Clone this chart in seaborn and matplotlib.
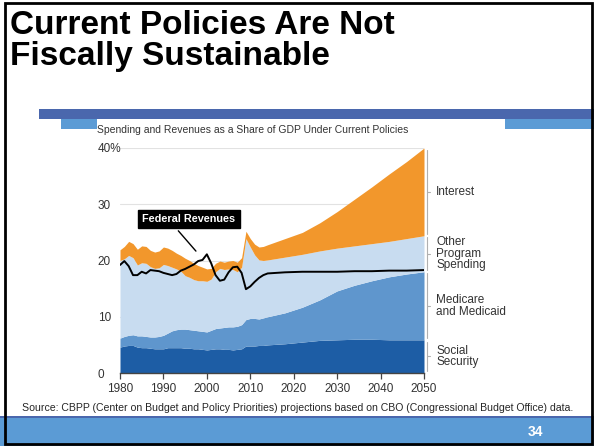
import matplotlib.pyplot as plt
import seaborn as sns
import pandas as pd
from matplotlib.patches import Rectangle

# Data (% of GDP)
years = list(range(1980, 2015)) + [2018, 2022, 2026, 2030, 2034, 2038, 2042, 2046, 2050]
social_security = [4.6, 4.8, 4.9, 4.9, 4.6, 4.5, 4.5, 4.4, 4.3, 4.3,
                   4.3, 4.5, 4.5, 4.5, 4.5, 4.4, 4.4, 4.3, 4.3, 4.2,
                   4.1, 4.2, 4.3, 4.3, 4.2, 4.2, 4.1, 4.2, 4.3, 4.8,
                   4.8, 4.8, 4.9, 4.9, 5.0,
                   5.2, 5.5, 5.8, 5.9, 6.0, 6.0, 5.9, 5.9, 5.9]
medicare_medicaid = [1.6, 1.7, 1.8, 1.9, 2.0, 2.1, 2.0, 2.0, 2.1, 2.2,
                     2.4, 2.6, 3.0, 3.2, 3.3, 3.4, 3.3, 3.3, 3.2, 3.2,
                     3.2, 3.4, 3.6, 3.7, 3.9, 4.0, 4.1, 4.1, 4.3, 4.7,
                     4.9, 4.9, 4.7, 4.9, 5.0,
                     5.5, 6.2, 7.2, 8.7, 9.6, 10.4, 11.2, 11.7, 12.1]
other_program = [13.8, 13.8, 14.2, 13.7, 12.6, 13.0, 13.0, 12.5, 12.2, 12.2,
                 12.6, 12.0, 11.3, 10.8, 10.3, 9.5, 9.3, 9.0, 8.9, 9.0,
                 9.0, 9.1, 10.1, 10.6, 10.3, 10.3, 10.2, 9.7, 10.2, 14.4,
                 12.7, 11.3, 10.5, 10.2, 10.1,
                 9.9, 9.4, 8.7, 7.6, 7.0, 6.6, 6.3, 6.3, 6.4]
interest = [1.9, 2.2, 2.5, 2.5, 2.8, 3.0, 3.0, 2.9, 2.9, 3.0,
            3.1, 3.1, 3.0, 2.8, 2.8, 3.1, 3.0, 2.9, 2.7, 2.4,
            2.2, 1.9, 1.5, 1.3, 1.3, 1.4, 1.6, 1.7, 1.7, 1.3,
            1.5, 1.9, 2.3, 2.5, 2.7,
            3.3, 3.9, 5.0, 6.5, 8.3, 10.1, 12.0, 13.7, 15.6]
revenues = [19.2, 19.9, 19.0, 17.4, 17.4, 18.0, 17.7, 18.3, 18.2, 18.1,
            17.8, 17.6, 17.4, 17.6, 18.2, 18.5, 18.9, 19.3, 19.9, 20.1,
            21.1, 19.5, 17.4, 16.4, 16.6, 17.9, 18.8, 18.9, 17.8, 14.9,
            15.4, 16.2, 16.9, 17.4, 17.7,
            17.9, 18.0, 18.0, 18.0, 18.1, 18.1, 18.2, 18.2, 18.3]

layer_names = ['Social\nSecurity', 'Medicare\nand Medicaid', 'Other\nProgram\nSpending', 'Interest']
layer_colors = ['#1d5da5', '#5f96cd', '#c8dcf0', '#f2972c']
y_ticks = [0, 10, 20, 30, 40]
y_tick_labels = ['0', '10', '20', '30', '40%']
x_ticks = list(range(1980, 2051, 10))

df = pd.DataFrame({'year': years, 'ss': social_security, 'mm': medicare_medicaid,
                   'other': other_program, 'interest': interest, 'revenues': revenues})

sns.set_style('white')
plt.rcParams['font.family'] = ['Liberation Sans', 'DejaVu Sans']

W, H = 594, 446
fig = plt.figure(figsize=(W / 100, H / 100), dpi=100)


def fx(px):
    return px / W


def fy(py):
    return 1 - py / H


def rect(x0, y0, x1, y1, color, **kw):
    fig.add_artist(Rectangle((fx(x0), fy(y1)), fx(x1 - x0), (y1 - y0) / H,
                             transform=fig.transFigure, color=color, lw=0, **kw))


# slide decorations
rect(39, 109, 594, 119, '#4a67ad')
rect(61, 119, 97, 129, '#5b9bd5')
rect(505, 119, 594, 129, '#5b9bd5')
rect(0, 416, 594, 418, '#4a67ad')
rect(0, 418, 594, 446, '#5b9bd5')
fig.add_artist(Rectangle((fx(5), fy(444)), fx(587), 441 / H, transform=fig.transFigure,
                         fill=False, ec='black', lw=2))

fig.text(fx(10), fy(10), 'Current Policies Are Not\nFiscally Sustainable', ha='left', va='top',
         fontsize=24, weight='bold', linespacing=1.0, color='black')
fig.text(fx(97), fy(130), 'Spending and Revenues as a Share of GDP Under Current Policies',
         ha='left', va='center', fontsize=7.5, color='#333333')
fig.text(fx(22), fy(408), 'Source: CBPP (Center on Budget and Policy Priorities) projections '
         'based on CBO (Congressional Budget Office) data.', ha='left', va='center', fontsize=7.6)
fig.text(fx(535), fy(432), '34', ha='center', va='center', fontsize=10, weight='bold', color='white')

# chart
ax = fig.add_axes([fx(120), 73 / H, fx(304), 225 / H])
ax.stackplot(df['year'], df['ss'], df['mm'], df['other'], df['interest'],
             colors=layer_colors, lw=0)
sns.lineplot(data=df, x='year', y='revenues', color='black', lw=1.4, ax=ax)

ax.set_xlim(1980, 2050)
ax.set_ylim(0, 40)
ax.set_xticks(x_ticks)
ax.set_xticklabels([str(x) for x in x_ticks])
ax.set_yticks(y_ticks)
ax.set_yticklabels(y_tick_labels)
for lab in ax.get_yticklabels():
    lab.set_horizontalalignment('left')
ax.set_xlabel('')
ax.set_ylabel('')
ax.tick_params(axis='x', length=4, width=0.9, color='#444444', pad=3, labelsize=8.5,
               labelcolor='#333333', bottom=True)
ax.tick_params(axis='y', length=0, pad=16, labelsize=8.5, labelcolor='#333333')
ax.yaxis.grid(True, color='#e2e2e2', lw=0.8)
ax.set_axisbelow(True)
for side in ['top', 'right', 'left']:
    ax.spines[side].set_visible(False)
ax.spines['bottom'].set_color('#444444')
ax.spines['bottom'].set_linewidth(1.0)
ax.spines['bottom'].set_zorder(5)

# Federal revenues callout
ax.annotate('Federal Revenues', xy=(1997.9, 21.3), xytext=(1995.9, 27.4),
            ha='center', va='center', color='white', weight='bold', fontsize=7.8,
            bbox=dict(boxstyle='square,pad=0.4', fc='black', ec='black'),
            arrowprops=dict(arrowstyle='-', color='black', lw=1, relpos=(0.32, 0)))

# brackets and labels on the right
last = [social_security[-1], medicare_medicaid[-1], other_program[-1], interest[-1]]
bottoms = [sum(last[:i]) for i in range(4)]
for name, b, h in zip(layer_names, bottoms, last):
    lo, hi = b + 0.3, b + h - 0.3
    mid = b + h / 2
    ax.plot([2050.7, 2050.7], [lo, hi], color='#b0b0b0', lw=0.8, clip_on=False)
    ax.plot([2050.7, 2051.4], [mid, mid], color='#b0b0b0', lw=0.8, clip_on=False)
    ax.text(2052.8, mid, name, ha='left', va='center', fontsize=8.5, color='#333333',
            linespacing=0.95, clip_on=False)

fig.savefig('out.png', dpi=100)
